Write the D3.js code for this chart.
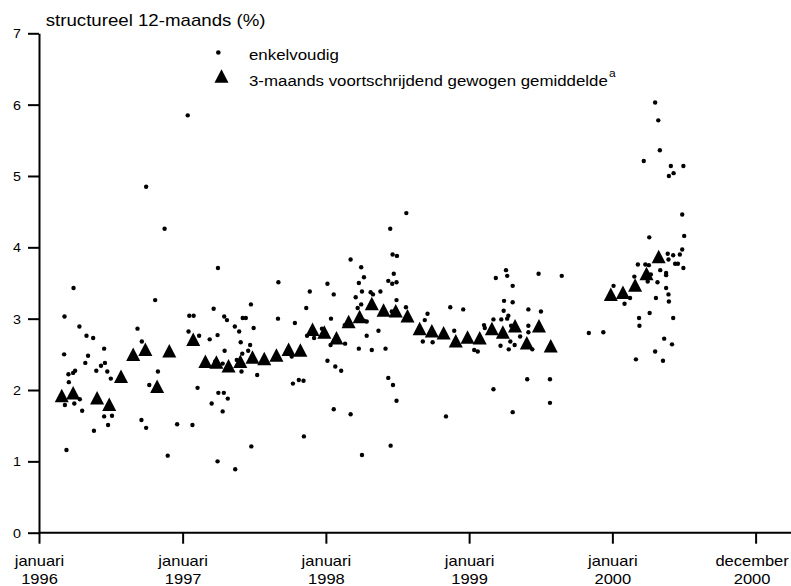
<!DOCTYPE html>
<html>
<head>
<meta charset="utf-8">
<script src="https://cdn.jsdelivr.net/npm/d3@7"></script>
<style>
  body { margin: 0; background: #fff; }
  svg { display: block; }
  text { font-family: "Liberation Sans", Arial, Helvetica, sans-serif; fill: #000; }
</style>
</head>
<body>
<svg id="chart" width="791" height="586"></svg>
<script>
// ---- data -------------------------------------------------------------
// individual observations (enkelvoudig)
const singleDates = [
  "1996-03-05","1996-03-06","1996-03-07","1996-03-11","1996-03-16","1996-03-17","1996-03-28","1996-03-29",
  "1996-03-31","1996-04-02","1996-04-13","1996-04-14","1996-04-20","1996-04-28","1996-05-01","1996-05-05",
  "1996-05-18","1996-05-20","1996-05-26","1996-06-07","1996-06-15","1996-06-15","1996-06-17","1996-06-23",
  "1996-06-25","1996-07-02","1996-07-05","1996-09-08","1996-09-18","1996-09-19","1996-09-30","1996-09-30",
  "1996-10-08","1996-10-23","1996-10-30","1996-11-16","1996-11-24","1996-12-18",
  "1997-01-14","1997-01-16","1997-01-18","1997-01-26","1997-01-29","1997-02-08","1997-02-12","1997-03-11",
  "1997-03-16","1997-03-21","1997-03-25","1997-03-31","1997-03-31","1997-04-01","1997-04-02","1997-04-13",
  "1997-04-13","1997-04-16","1997-04-17","1997-04-18","1997-04-24","1997-04-26","1997-05-14","1997-05-15",
  "1997-05-19","1997-05-25","1997-05-29","1997-05-31","1997-06-02","1997-06-03","1997-06-11","1997-06-17",
  "1997-06-22","1997-06-24","1997-06-25","1997-07-01","1997-07-10","1997-09-01","1997-09-02","1997-10-06",
  "1997-10-09","1997-10-14","1997-10-24","1997-11-05","1997-11-06","1997-11-12","1997-11-14","1997-11-21",
  "1997-12-02","1997-12-22",
  "1998-01-05","1998-01-05","1998-01-13","1998-01-14","1998-01-21","1998-01-21","1998-01-25","1998-02-09",
  "1998-02-18","1998-02-19","1998-03-05","1998-03-05","1998-03-18","1998-03-23","1998-03-26","1998-03-26",
  "1998-04-01","1998-04-01","1998-04-03","1998-04-03","1998-04-08","1998-04-08","1998-04-15","1998-04-15",
  "1998-04-25","1998-04-28","1998-05-01","1998-05-15","1998-05-20","1998-06-02","1998-06-09","1998-06-09",
  "1998-06-14","1998-06-15","1998-06-18","1998-06-19","1998-06-20","1998-06-21","1998-06-23","1998-06-30",
  "1998-06-30","1998-06-30","1998-07-01","1998-07-24","1998-07-25","1998-09-05","1998-09-10","1998-09-17",
  "1998-09-30","1998-11-03","1998-11-14","1998-11-24","1998-12-17",
  "1999-01-14","1999-01-23","1999-02-08","1999-02-10","1999-03-04","1999-03-04","1999-03-10","1999-03-22",
  "1999-03-24","1999-03-30","1999-03-31","1999-04-05","1999-04-08","1999-04-08","1999-04-11","1999-04-12",
  "1999-04-16","1999-04-18","1999-04-22","1999-04-22","1999-04-22","1999-04-27","1999-05-11","1999-05-29",
  "1999-06-01","1999-06-01","1999-06-01","1999-06-11","1999-06-27","1999-07-03","1999-07-26","1999-07-26",
  "1999-08-25","1999-11-02","1999-12-09",
  "2000-01-04","2000-02-01","2000-02-15","2000-02-26","2000-03-01","2000-03-06","2000-03-09","2000-03-10",
  "2000-03-21","2000-03-25","2000-03-29","2000-03-31","2000-04-03","2000-04-04","2000-04-05","2000-04-08",
  "2000-04-19","2000-04-19","2000-04-21","2000-04-25","2000-04-27","2000-05-01","2000-05-02","2000-05-09",
  "2000-05-12","2000-05-17","2000-05-17","2000-05-17","2000-05-21","2000-05-23","2000-05-23","2000-05-24",
  "2000-05-24","2000-05-29","2000-06-01","2000-06-04","2000-06-04","2000-06-05","2000-06-09","2000-06-16",
  "2000-06-21","2000-06-27","2000-06-27","2000-06-30","2000-06-30","2000-07-02"
];
const singleValues = [
  2.50,3.03,1.79,1.16,2.22,2.11,2.24,3.43,
  1.81,2.27,2.89,1.87,1.71,2.38,2.76,2.48,
  2.73,1.43,2.27,2.34,2.58,1.63,2.38,2.26,
  1.51,2.16,1.64,2.86,1.58,2.68,4.85,1.47,
  2.07,3.26,2.26,4.26,1.08,1.52,
  5.85,2.82,3.04,1.51,3.04,2.03,2.76,2.71,
  1.81,3.14,2.40,2.77,1.00,3.71,1.96,2.37,
  1.70,1.96,3.03,2.55,2.98,1.88,2.89,0.89,
  2.42,2.82,2.67,2.26,2.51,3.01,3.01,2.55,
  2.63,3.20,1.21,2.87,2.21,3.00,3.51,2.47,
  2.09,2.94,2.14,2.13,1.35,3.15,2.76,3.38,
  2.73,2.86,
  3.49,2.41,2.63,3.00,3.34,1.73,2.33,2.27,
  2.91,2.65,3.83,1.66,3.30,3.15,3.50,2.58,
  3.72,3.20,3.38,1.09,3.58,2.97,2.96,2.76,
  3.37,2.56,3.34,2.83,3.38,2.58,3.53,2.17,
  4.26,1.22,3.10,3.49,3.90,2.07,3.63,3.51,
  3.26,1.85,3.88,3.16,4.48,2.68,2.98,3.07,
  2.67,1.63,3.16,2.83,3.13,
  2.56,2.54,2.91,2.87,2.99,2.01,3.57,2.62,
  2.99,3.11,3.25,3.68,3.60,3.00,3.04,2.57,
  2.68,2.90,3.46,3.23,1.69,2.63,2.75,2.15,
  3.13,2.90,2.81,2.57,3.63,3.10,2.15,1.82,
  3.60,2.80,2.81,
  3.46,3.21,3.29,3.59,2.43,3.76,3.01,2.90,
  5.21,3.76,3.59,3.52,3.75,4.14,3.08,3.62,
  6.03,2.54,3.29,3.51,5.78,5.36,3.68,2.41,
  2.72,3.64,3.61,3.43,3.91,3.83,3.34,5.00,
  3.24,5.14,2.64,3.89,3.01,5.04,3.77,3.77,
  3.90,4.46,3.97,5.14,3.71,4.16
];

// 3-month moving weighted average, plotted at month end
const avgDates = [
  "1996-02-28","1996-03-28","1996-05-28","1996-06-28","1996-07-28","1996-08-28","1996-09-28","1996-10-28","1996-11-28",
  "1997-01-28","1997-02-28","1997-03-28","1997-04-28","1997-05-28","1997-06-28","1997-07-28","1997-08-28",
  "1997-09-28","1997-10-28","1997-11-28","1997-12-28",
  "1998-01-28","1998-02-28","1998-03-28","1998-04-28","1998-05-28","1998-06-28","1998-07-28","1998-08-28",
  "1998-09-28","1998-10-28","1998-11-28","1998-12-28",
  "1999-01-28","1999-02-28","1999-03-28","1999-04-28","1999-05-28","1999-06-28","1999-07-28",
  "1999-12-28","2000-01-28","2000-02-28","2000-03-28","2000-04-28"
];
const avgValues = [
  1.89,1.93,1.86,1.77,2.16,2.47,2.54,2.02,2.52,
  2.68,2.37,2.36,2.31,2.37,2.43,2.41,2.46,
  2.54,2.53,2.82,2.78,
  2.70,2.93,3.00,3.18,3.09,3.08,3.01,2.83,
  2.80,2.77,2.66,2.71,
  2.70,2.83,2.78,2.87,2.63,2.87,2.59,
  3.31,3.34,3.44,3.60,3.84
];

// axes and labels
const yTicks = [0, 1, 2, 3, 4, 5, 6, 7];
const xTickDates = ["1996-01-01","1997-01-01","1998-01-01","1999-01-01","2000-01-01","2000-12-31"];
const xTickMonths = ["januari","januari","januari","januari","januari","december"];
const xTickYears = ["1996","1997","1998","1999","2000","2000"];
const yTitle = "structureel 12-maands (%)";
const legendLabels = ["enkelvoudig", "3-maands voortschrijdend gewogen gemiddelde"];
const legendNote = "a";

// ---- drawing ------------------------------------------------------------
const parse = d3.timeParse("%Y-%m-%d");
const svg = d3.select("#chart");

const x = d3.scaleTime()
  .domain([new Date(1996, 0, 1), new Date(2001, 0, 1)])
  .range([39, 756]);
const y = d3.scaleLinear().domain([0, 7]).range([532.7, 33.3]);

// filled triangle, centred on its centroid
const triangle = {
  draw(ctx, size) {
    const h = Math.sqrt(size), w = h * 1.04;
    ctx.moveTo(0, -h * 2 / 3);
    ctx.lineTo(w / 2, h / 3);
    ctx.lineTo(-w / 2, h / 3);
    ctx.closePath();
  }
};
const triPath = d3.symbol().type(triangle).size(13.5 * 13.5)();

// horizontally widened text
function label(g, str, px, py, size, sx, anchor) {
  return g.append("text")
    .attr("transform", `translate(${px},${py}) scale(${sx},1)`)
    .attr("text-anchor", anchor || "start")
    .style("font-size", size + "px")
    .text(str);
}

// y axis
const yAxis = svg.append("g")
  .attr("transform", "translate(39,0)")
  .call(d3.axisLeft(y).tickValues(yTicks).tickSize(11).tickSizeOuter(0).tickFormat(""));
yAxis.selectAll("path, line").attr("stroke", "#000").attr("stroke-width", 2);
yAxis.selectAll(".tick").each(function (d) {
  label(d3.select(this), d3.format("d")(d), -18, 4.6, 13, 1.1, "end");
});

// x axis
const xAxis = svg.append("g")
  .attr("transform", `translate(0,${y(0)})`)
  .call(d3.axisBottom(x).tickValues(xTickDates.map(parse)).tickSize(11).tickSizeOuter(0).tickFormat(""));
xAxis.select(".domain").remove();
xAxis.append("line")
  .attr("x1", x.range()[0]).attr("x2", 791)
  .attr("stroke", "#000").attr("stroke-width", 2);
xAxis.selectAll(".tick line").attr("stroke", "#000").attr("stroke-width", 2);
xAxis.selectAll(".tick").each(function (d, i) {
  const t = d3.select(this);
  // the last label sits against the right edge, so nudge it inwards a little
  const dx = i === xTickDates.length - 1 ? -4 : 0;
  label(t, xTickMonths[i], dx, 33.5, 14, 1.18, "middle");
  label(t, xTickYears[i], dx, 50.8, 14, 1.18, "middle");
});

// title
label(svg, yTitle, 45.7, 26, 16, 1.167);

// single observations
svg.append("g").selectAll("circle")
  .data(singleDates.map((d, i) => ({ date: parse(d), value: singleValues[i] })))
  .join("circle")
  .attr("cx", d => x(d.date))
  .attr("cy", d => y(d.value))
  .attr("r", 2.2)
  .attr("fill", "#000");

// moving average
svg.append("g").selectAll("path")
  .data(avgDates.map((d, i) => ({ date: parse(d), value: avgValues[i] })))
  .join("path")
  .attr("d", triPath)
  .attr("transform", d => `translate(${x(d.date)},${y(d.value)})`)
  .attr("fill", "#000");

// legend
const legend = svg.append("g");
legend.append("circle").attr("cx", 218.3).attr("cy", 52.5).attr("r", 2.3).attr("fill", "#000");
legend.append("path").attr("d", triPath).attr("transform", "translate(221.5,78.3)").attr("fill", "#000");
label(legend, legendLabels[0], 249, 60, 15.5, 1.088);
const second = label(legend, legendLabels[1], 249, 86, 15.5, 1.088);
second.append("tspan")
  .attr("dy", -9)
  .attr("dx", 1)
  .style("font-size", "11px")
  .text(legendNote);
</script>
</body>
</html>
